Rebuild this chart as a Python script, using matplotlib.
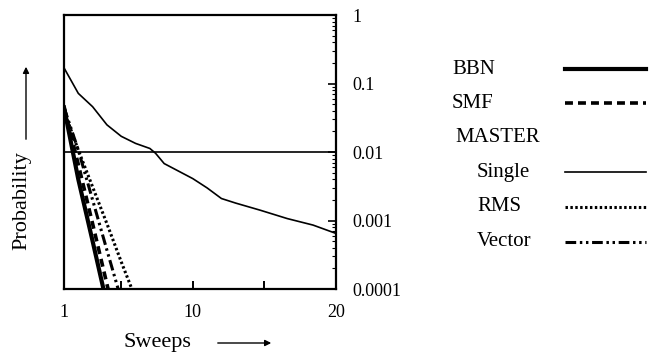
import matplotlib
matplotlib.use("Agg")
import matplotlib.pyplot as plt
from matplotlib.lines import Line2D
from matplotlib.ticker import LogLocator, FixedLocator, NullFormatter

plt.rcParams["font.family"] = ["Liberation Serif", "DejaVu Serif"]

# sweeps / probability
sweeps_single = [1, 2, 3, 4, 5, 6, 7, 7.4, 8, 10, 11, 12, 13, 14.7, 16.6, 18.4, 20]
p_single = [0.17, 0.072, 0.046, 0.025, 0.017, 0.0134, 0.0113, 0.0096, 0.0068,
            0.0041, 0.0030, 0.0021, 0.0018, 0.00142, 0.00107, 0.00086, 0.00065]

sweeps_bbn = [1, 2, 3, 4]
p_bbn = [0.045, 0.004, 0.0005, 0.00006]

sweeps_smf = [1, 2, 3, 4, 5]
p_smf = [0.045, 0.0066, 0.0009, 0.000118, 0.000016]

sweeps_vector = [1, 2, 3, 4, 5]
p_vector = [0.045, 0.0107, 0.002, 0.00037, 0.00007]

sweeps_rms = [1, 2, 3, 4, 5, 6]
p_rms = [0.04, 0.0107, 0.0031, 0.0009, 0.00025, 0.000073]

threshold = 0.01
x_ticks = [5, 10, 15]
x_labels = {1: "1", 10: "10", 20: "20"}
y_labels = ["1", "0.1", "0.01", "0.001", "0.0001"]
y_vals = [1, 0.1, 0.01, 0.001, 0.0001]

fig = plt.figure(figsize=(6.49, 3.6), dpi=100)
ax = fig.add_axes([0.0986, 0.197, 0.419, 0.761])

styles = {
    "BBN": dict(color="k", lw=3.0, ls="-"),
    "SMF": dict(color="k", lw=2.6, ls=(0, (2.2, 1.4))),
    "Single": dict(color="k", lw=1.2, ls="-"),
    "RMS": dict(color="k", lw=2.2, ls=(0, (0.8, 0.8))),
    "Vector": dict(color="k", lw=2.2, ls=(0, (3.5, 1.2, 0.8, 1.2, 0.8, 1.2))),
}

ax.axhline(threshold, color="k", lw=1.2)
ax.plot(sweeps_single, p_single, **styles["Single"])
ax.plot(sweeps_rms, p_rms, **styles["RMS"])
ax.plot(sweeps_vector, p_vector, **styles["Vector"])
ax.plot(sweeps_smf, p_smf, **styles["SMF"])
ax.plot(sweeps_bbn, p_bbn, **styles["BBN"])

ax.set_yscale("log")
ax.set_xlim(1, 20)
ax.set_ylim(1e-4, 1)
for s in ax.spines.values():
    s.set_linewidth(1.6)

ax.xaxis.set_major_locator(FixedLocator(x_ticks))
ax.set_xticklabels([])
ax.tick_params(axis="x", direction="in", length=6, width=1.4, bottom=True, top=False)
for xv, lab in x_labels.items():
    ax.text(xv, -0.055, lab, transform=ax.get_xaxis_transform(), ha="center", va="top", fontsize=13)

ax.yaxis.tick_right()
ax.yaxis.set_major_locator(FixedLocator(y_vals))
ax.yaxis.set_minor_locator(LogLocator(base=10, subs=range(2, 10)))
ax.yaxis.set_minor_formatter(NullFormatter())
ax.set_yticklabels(y_labels, fontsize=13)
ax.tick_params(axis="y", which="major", direction="in", length=6, width=1.2, pad=12, left=False, right=True)
ax.tick_params(axis="y", which="minor", direction="in", length=3, width=0.8, left=False, right=True)

# axis titles with arrows
fig.text(157 / 649, 1 - 343 / 360, "Sweeps", ha="center", va="center", fontsize=16)
fig.add_artist(plt.matplotlib.patches.FancyArrowPatch(
    (215 / 649, 1 - 343 / 360), (274 / 649, 1 - 343 / 360), transform=fig.transFigure,
    arrowstyle="-|>", mutation_scale=9, lw=1.0, color="k"))
fig.text(22 / 649, 1 - 201 / 360, "Probability", ha="center", va="center", rotation=90, fontsize=16)
fig.add_artist(plt.matplotlib.patches.FancyArrowPatch(
    (26 / 649, 1 - 142 / 360), (26 / 649, 1 - 64 / 360), transform=fig.transFigure,
    arrowstyle="-|>", mutation_scale=9, lw=1.0, color="k"))

# legend drawn as a text column with line samples
legend_rows = [("BBN", 452, 69, "BBN"), ("SMF", 452, 103, "SMF"), ("MASTER", 455, 138, None),
               ("Single", 477, 172, "Single"), ("RMS", 477, 207, "RMS"), ("Vector", 477, 242, "Vector")]
for label, tx, ty, key in legend_rows:
    fig.text(tx / 649, 1 - ty / 360, label, ha="left", va="center", fontsize=15)
    if key:
        fig.add_artist(Line2D([565 / 649, 646 / 649], [1 - ty / 360, 1 - ty / 360],
                              transform=fig.transFigure, **styles[key]))

fig.savefig("out.png", dpi=100)
